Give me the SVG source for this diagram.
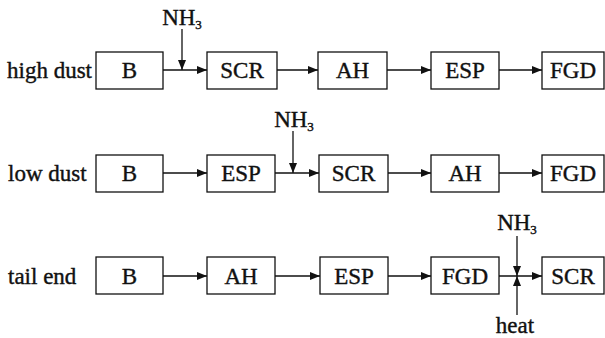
<svg xmlns="http://www.w3.org/2000/svg" width="605" height="338" viewBox="0 0 605 338">
<defs>
<marker id="ah" viewBox="0 0 10 8" refX="10" refY="4" markerWidth="10" markerHeight="8" markerUnits="userSpaceOnUse" orient="auto">
<path d="M0,0 L10,4 L0,8 Z" fill="#111"/>
</marker>
</defs>
<style>
rect.box{fill:#fff;stroke:#111;stroke-width:1.3}
text{font-family:"Liberation Serif","Times New Roman",serif;font-size:23px;fill:#111;stroke:#111;stroke-width:0.4}
text.c{text-anchor:middle}
.sub{font-size:13px}
line.e{stroke:#111;stroke-width:1.3;fill:none;marker-end:url(#ah)}
</style>
<rect width="605" height="338" fill="#fff"/>
<text id="lbl1" x="7" y="78">high dust</text>
<text id="lbl2" x="8" y="181">low dust</text>
<text id="lbl3" x="8" y="284">tail end</text>

<g id="r1B"><rect class="box" x="96" y="52" width="67" height="37"/><text class="c" x="129.5" y="78">B</text></g>
<g id="r1SCR"><rect class="box" x="207" y="52" width="70" height="37"/><text class="c" x="242" y="78">SCR</text></g>
<g id="r1AH"><rect class="box" x="318" y="52" width="69" height="37"/><text class="c" x="352.5" y="78">AH</text></g>
<g id="r1ESP"><rect class="box" x="431" y="52" width="68" height="37"/><text class="c" x="465" y="78">ESP</text></g>
<g id="r1FGD"><rect class="box" x="542" y="52" width="62" height="37"/><text class="c" x="573" y="78">FGD</text></g>
<g id="r1NH3"><text class="c" x="182" y="25">NH<tspan class="sub" dy="4">3</tspan></text></g>

<g id="r2B"><rect class="box" x="96" y="155" width="67" height="37"/><text class="c" x="129.5" y="181">B</text></g>
<g id="r2ESP"><rect class="box" x="207" y="155" width="68" height="37"/><text class="c" x="241" y="181">ESP</text></g>
<g id="r2SCR"><rect class="box" x="319" y="155" width="69" height="37"/><text class="c" x="353.5" y="181">SCR</text></g>
<g id="r2AH"><rect class="box" x="431" y="155" width="68" height="37"/><text class="c" x="465" y="181">AH</text></g>
<g id="r2FGD"><rect class="box" x="542" y="155" width="62" height="37"/><text class="c" x="573" y="181">FGD</text></g>
<g id="r2NH3"><text class="c" x="294" y="127">NH<tspan class="sub" dy="4">3</tspan></text></g>

<g id="r3B"><rect class="box" x="96" y="257" width="67" height="37"/><text class="c" x="129.5" y="284">B</text></g>
<g id="r3AH"><rect class="box" x="207" y="257" width="68" height="37"/><text class="c" x="241" y="284">AH</text></g>
<g id="r3ESP"><rect class="box" x="320" y="257" width="68" height="37"/><text class="c" x="354" y="284">ESP</text></g>
<g id="r3FGD"><rect class="box" x="431" y="257" width="68" height="37"/><text class="c" x="465" y="284">FGD</text></g>
<g id="r3SCR"><rect class="box" x="542" y="257" width="62" height="37"/><text class="c" x="573" y="284">SCR</text></g>
<g id="r3NH3"><text class="c" x="517" y="230">NH<tspan class="sub" dy="4">3</tspan></text></g>
<g id="r3heat"><text class="c" x="515" y="333">heat</text></g>

<g id="connectors">
<line class="e" x1="163" y1="70" x2="207" y2="70"/>
<line class="e" x1="182" y1="29" x2="182" y2="70"/>
<line class="e" x1="277" y1="70" x2="318" y2="70"/>
<line class="e" x1="387" y1="70" x2="431" y2="70"/>
<line class="e" x1="499" y1="70" x2="542" y2="70"/>

<line class="e" x1="163" y1="173" x2="207" y2="173"/>
<line class="e" x1="275" y1="173" x2="319" y2="173"/>
<line class="e" x1="293" y1="131" x2="293" y2="173"/>
<line class="e" x1="388" y1="173" x2="431" y2="173"/>
<line class="e" x1="499" y1="173" x2="542" y2="173"/>

<line class="e" x1="163" y1="276" x2="207" y2="276"/>
<line class="e" x1="275" y1="276" x2="320" y2="276"/>
<line class="e" x1="388" y1="276" x2="431" y2="276"/>
<line class="e" x1="499" y1="276" x2="542" y2="276"/>
<line class="e" x1="517" y1="236" x2="517" y2="276"/>
<line class="e" x1="517" y1="315" x2="517" y2="276"/>
</g>
</svg>
